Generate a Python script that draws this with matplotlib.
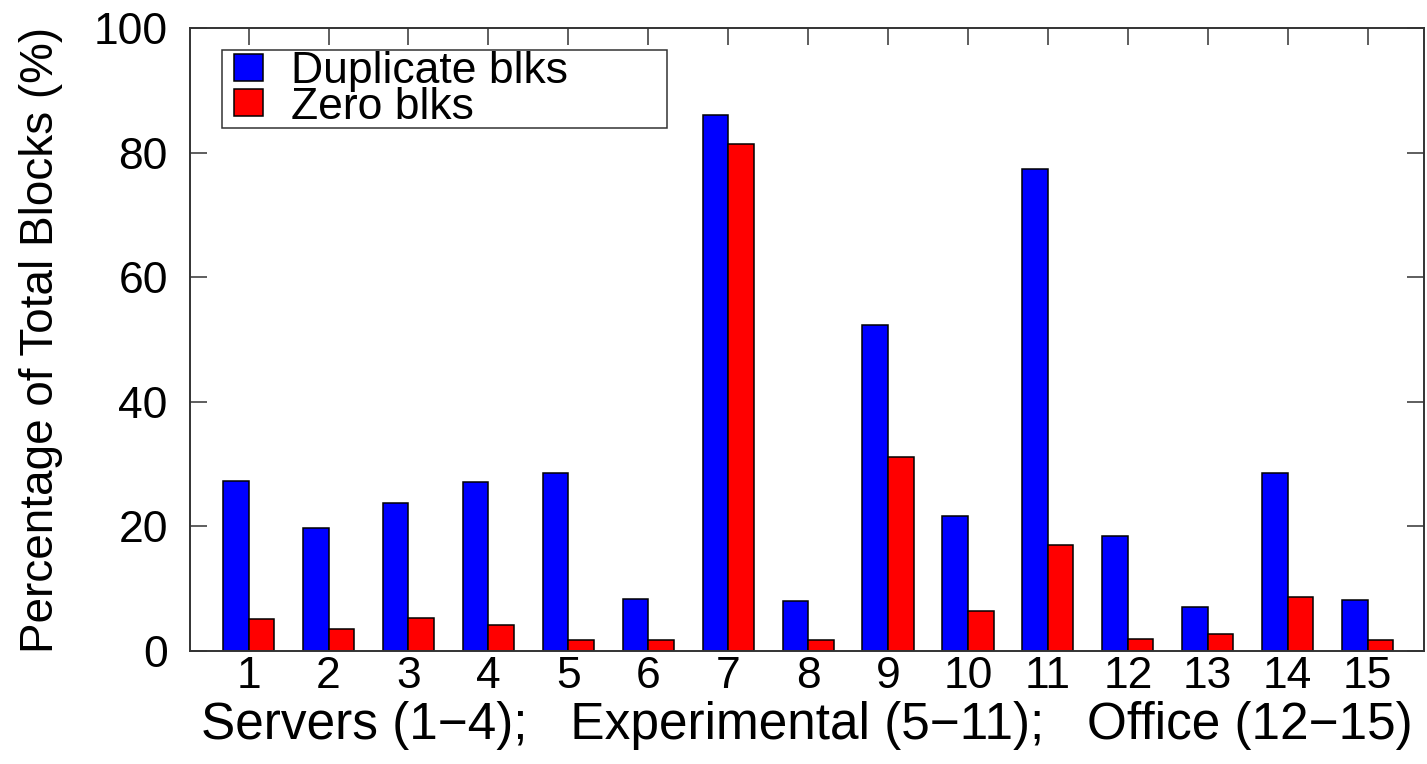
import matplotlib
matplotlib.use("Agg")
import matplotlib.pyplot as plt
import matplotlib.patches as mpatches
from matplotlib.legend_handler import HandlerPatch
import numpy as np

plt.rcParams['font.family'] = ['Liberation Sans', 'DejaVu Sans']

# Per-volume block statistics (percent of total blocks)
volumes = list(range(1, 16))
duplicate_blks = [27.3, 19.7, 23.8, 27.1, 28.6, 8.3, 86.0, 8.1, 52.3, 21.7, 77.3, 18.5, 7.1, 28.6, 8.2]
zero_blks = [5.1, 3.6, 5.3, 4.1, 1.8, 1.8, 81.4, 1.8, 31.1, 6.4, 17.0, 2.0, 2.8, 8.6, 1.7]
y_ticks = [0, 20, 40, 60, 80, 100]
series_labels = ["Duplicate blks", "Zero blks"]
series_colors = ['#0000ff', '#ff0000']
x_label = "Servers (1\u22124);   Experimental (5\u221211);   Office (12\u221215)"
y_label = "Percentage of Total Blocks (%)"

W, H = 1427, 764
fig = plt.figure(figsize=(W / 100, H / 100), dpi=100)
ax = fig.add_axes([190 / W, 1 - 651 / H, 1234 / W, 623 / H])

x = np.array(volumes, dtype=float)
bw = 0.32
ax.bar(x, duplicate_blks, width=-bw, align='edge', color=series_colors[0],
       edgecolor='black', linewidth=1.1, zorder=2)
ax.bar(x, zero_blks, width=bw, align='edge', color=series_colors[1],
       edgecolor='black', linewidth=1.1, zorder=2)

ax.set_xlim(0.267, 15.705)
ax.set_ylim(0, 100)
ax.set_xticks(x)
ax.set_xticklabels([str(v) for v in volumes])
ax.set_yticks(y_ticks)

for s in ax.spines.values():
    s.set_linewidth(1.4)
    s.set_color('#333333')
    s.set_zorder(3)

ax.tick_params(axis='x', which='major', direction='in', length=12, width=1.1,
               color='#333333', top=True, bottom=False, labelsize=32, pad=3.7)
ax.tick_params(axis='y', which='major', direction='in', length=12, width=1.1,
               color='#333333', left=True, right=True, labelsize=32, pad=16)

ax.set_xlabel(x_label, fontsize=37, labelpad=2.5)
ax.set_ylabel(y_label, fontsize=33, labelpad=22)


# Legend swatches: a square inset from the left edge of the handle box
SWATCH_INSET = 8.0  # points


def inset_square(legend, orig_handle, xdescent, ydescent, width, height, fontsize):
    return mpatches.Rectangle((-xdescent + SWATCH_INSET, -ydescent),
                              width - SWATCH_INSET, height)


leg_handles = [mpatches.Patch(facecolor=c, edgecolor='black', linewidth=1.1)
               for c in series_colors]
leg_fs = 32
sw_w = 29 * 0.72  # swatch width in points
leg = ax.legend(leg_handles, series_labels,
                loc='upper left', bbox_to_anchor=(0.0259, 0.5, 0.3606, 0.4647),
                mode='expand', borderaxespad=0, fontsize=leg_fs, frameon=True,
                fancybox=False, handlelength=(sw_w + SWATCH_INSET) / leg_fs,
                handleheight=0.56, handletextpad=0.63, labelspacing=-0.12,
                borderpad=0.02,
                handler_map={mpatches.Patch: HandlerPatch(patch_func=inset_square)})
leg.get_frame().set_edgecolor('black')
leg.get_frame().set_linewidth(1.1)

fig.savefig('out.png', dpi=100)
